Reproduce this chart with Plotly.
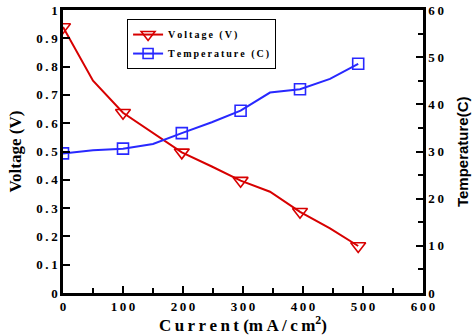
import plotly.graph_objects as go

current = [0, 50, 100, 150, 198, 248, 296, 345, 395, 445, 492]
voltage = [0.94, 0.75, 0.637, 0.564, 0.497, 0.447, 0.397, 0.358, 0.287, 0.228, 0.166]
temperature = [29.6, 30.25, 30.6, 31.6, 33.9, 36.2, 38.65, 42.5, 43.2, 45.4, 48.6]

x_ticks = [0, 100, 200, 300, 400, 500, 600]
v_ticks = [0, 0.1, 0.2, 0.3, 0.4, 0.5, 0.6, 0.7, 0.8, 0.9, 1]
t_ticks = [0, 10, 20, 30, 40, 50, 60]

series_names = ["Voltage (V)", "Temperature (C)"]

TS = "\u2009"  # thin space for the letter-spaced look of the original


def spaced(s):
    return TS.join(list(s))


def fmt(v):
    return ("%g" % v)


RED = "rgb(215,0,0)"
BLUE = "rgb(40,40,255)"
SERIF = "Liberation Serif, Times New Roman, serif"
SANS = "Liberation Sans, Arial, sans-serif"

fig = go.Figure()
fig.add_trace(go.Scatter(x=current, y=voltage, mode="lines", line=dict(color=RED, width=2),
                         showlegend=False, hoverinfo="skip"))
fig.add_trace(go.Scatter(x=current, y=temperature, mode="lines", line=dict(color=BLUE, width=2),
                         showlegend=False, yaxis="y2", hoverinfo="skip"))
fig.add_trace(go.Scatter(x=current[::2], y=voltage[::2], mode="markers",
                         marker=dict(symbol="triangle-down-open", size=13, color=RED, line=dict(width=1.6, color=RED)),
                         showlegend=False))
fig.add_trace(go.Scatter(x=current[::2], y=temperature[::2], mode="markers", yaxis="y2",
                         marker=dict(symbol="square-open", size=11, color=BLUE, line=dict(width=1.6, color=BLUE)),
                         showlegend=False))
fig.add_trace(go.Scatter(x=[None], y=[None], mode="lines+markers", name=spaced(series_names[0]),
                         line=dict(color=RED, width=2),
                         marker=dict(symbol="triangle-down-open", size=12, color=RED, line=dict(width=1.6, color=RED))))
fig.add_trace(go.Scatter(x=[None], y=[None], mode="lines+markers", name=spaced(series_names[1]), yaxis="y2",
                         line=dict(color=BLUE, width=2),
                         marker=dict(symbol="square-open", size=10, color=BLUE, line=dict(width=1.6, color=BLUE))))

tickfont = dict(family=SERIF, size=13, color="black", weight="bold")
axis_common = dict(showgrid=False, zeroline=False, showline=True, linecolor="black", linewidth=2.5,
                   ticks="inside", tickcolor="black", tickwidth=1.5, ticklen=7,
                   tickfont=tickfont, automargin=False, tickmode="array")

fig.update_layout(
    width=475, height=335,
    margin=dict(l=63, r=52, t=10, b=42),
    paper_bgcolor="white", plot_bgcolor="white",
    xaxis=dict(range=[0, 600], mirror=True,
               tickvals=x_ticks, ticktext=[spaced(fmt(v)) for v in x_ticks],
               minor=dict(tickvals=[50, 150, 250, 350, 450, 550], ticks="inside", ticklen=5,
                          tickcolor="black", tickwidth=1.5),
               **axis_common),
    yaxis=dict(range=[0, 1],
               tickvals=v_ticks, ticktext=[spaced(fmt(v)) for v in v_ticks],
               **axis_common),
    yaxis2=dict(range=[0, 60], overlaying="y", side="right",
                tickvals=t_ticks, ticktext=[spaced(fmt(v)) for v in t_ticks],
                minor=dict(tickvals=[5, 15, 25, 35, 45, 55], ticks="inside", ticklen=5,
                           tickcolor="black", tickwidth=1.5),
                **axis_common),
    legend=dict(x=0.178, y=0.968, xanchor="left", yanchor="top",
                bordercolor="black", borderwidth=1, bgcolor="white",
                font=dict(family=SERIF, size=10, color="black", weight="bold"),
                tracegroupgap=0),
    font=dict(family=SERIF, color="black"),
    annotations=[
        dict(text="<b>" + spaced("Current") + " (" + spaced("mA/cm") + "<sup>2</sup>)</b>",
             xref="paper", yref="paper", x=0.5, y=-0.108, xanchor="center", yanchor="middle",
             showarrow=False, font=dict(family=SERIF, size=17, color="black")),
        dict(text="<b>Voltage (V)</b>", textangle=-90,
             xref="paper", yref="paper", x=-0.133, y=0.5, xanchor="center", yanchor="middle",
             showarrow=False, font=dict(family=SERIF, size=17, color="black")),
        dict(text="<b>Temperature(C)</b>", textangle=-90,
             xref="paper", yref="paper", x=1.11, y=0.5, xanchor="center", yanchor="middle",
             showarrow=False, font=dict(family=SANS, size=15, color="black")),
    ],
)

fig.write_html("out.html", config={"displayModeBar": False},
               post_script="document.body.style.margin='0';document.body.style.overflow='hidden';")
